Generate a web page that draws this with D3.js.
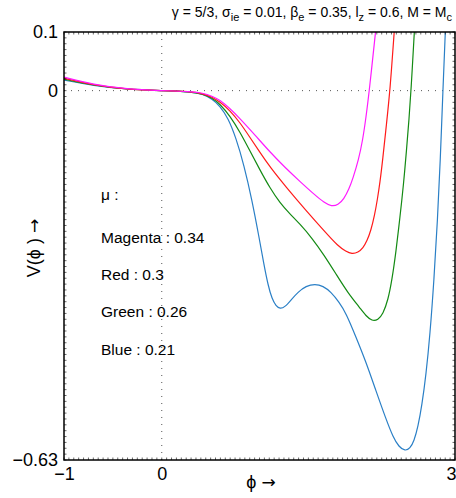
<!DOCTYPE html>
<html>
<head>
<meta charset="utf-8">
<script src="https://cdn.jsdelivr.net/npm/d3@7/dist/d3.min.js"></script>
<style>
  html, body { margin: 0; padding: 0; background: #fff; }
  svg { display: block; font-family: "Liberation Sans", Arial, Helvetica, sans-serif; }
</style>
</head>
<body>
<svg id="chart" width="456" height="498"></svg>
<script>
// Potential V(phi) for four values of mu
const muValues = [0.21, 0.26, 0.3, 0.34];
const seriesNames = ["Blue", "Green", "Red", "Magenta"];
const seriesColors = ["#2a7fc6", "#138a13", "#ff1a1a", "#ff1aff"];

const xTicks = [-1, 0, 3];
const yTicks = [0.1, 0, -0.63];
const xTickLabels = ["\u22121", "0", "3"];
const yTickLabels = ["0.1", "0", "\u22120.63"];

// [phi, V] samples for each mu
const blueV = [
  [-1, 0.018], [-0.703, 0.0085], [-0.355, 0.002], [0, 0], [0.289, -0.0015],
  [0.422, -0.0058], [0.514, -0.0143], [0.596, -0.0262], [0.678, -0.0467],
  [0.760, -0.0808], [0.841, -0.1268], [0.923, -0.1865], [0.995, -0.2497],
  [1.046, -0.2974], [1.087, -0.3315], [1.128, -0.3554], [1.169, -0.3673],
  [1.210, -0.3725], [1.261, -0.3690], [1.322, -0.3571], [1.394, -0.3435],
  [1.476, -0.3332], [1.568, -0.3298], [1.650, -0.3332], [1.731, -0.3435],
  [1.813, -0.3605], [1.885, -0.3793], [1.987, -0.4202], [2.090, -0.4629],
  [2.192, -0.5123], [2.294, -0.5601], [2.366, -0.5908], [2.427, -0.6078],
  [2.488, -0.6147], [2.540, -0.6104], [2.581, -0.5976], [2.621, -0.5737],
  [2.662, -0.5362], [2.703, -0.4850], [2.744, -0.4168], [2.785, -0.3230],
  [2.821, -0.2207], [2.850, -0.1183], [2.876, -0.0006], [2.901, 0.1]
];
const greenV = [
  [-1, 0.0195], [-0.703, 0.009], [-0.355, 0.002], [0, 0], [0.289, -0.0015],
  [0.422, -0.0058], [0.514, -0.0126], [0.596, -0.0228], [0.698, -0.0433],
  [0.800, -0.0706], [0.903, -0.1030], [1.005, -0.1354], [1.107, -0.1661],
  [1.210, -0.1917], [1.312, -0.2104], [1.414, -0.2275], [1.537, -0.2514],
  [1.660, -0.2803], [1.783, -0.3128], [1.905, -0.3452], [2.028, -0.3707],
  [2.090, -0.3844], [2.151, -0.3929], [2.212, -0.3912], [2.263, -0.3810],
  [2.315, -0.3571], [2.355, -0.3230], [2.396, -0.2752], [2.437, -0.2155],
  [2.473, -0.1610], [2.504, -0.1013], [2.529, -0.0501], [2.550, -0.0006],
  [2.584, 0.1]
];
const redV = [
  [-1, 0.021], [-0.703, 0.0095], [-0.355, 0.002], [0, 0], [0.289, -0.0015],
  [0.422, -0.005], [0.514, -0.0109], [0.596, -0.0194], [0.698, -0.0339],
  [0.800, -0.0544], [0.903, -0.0799], [1.005, -0.1055], [1.107, -0.1303],
  [1.271, -0.1644], [1.476, -0.2045], [1.680, -0.2428], [1.803, -0.2650],
  [1.885, -0.2744], [1.946, -0.2786], [2.008, -0.2761], [2.059, -0.2684],
  [2.100, -0.2565], [2.141, -0.2377], [2.176, -0.2138], [2.207, -0.1848],
  [2.233, -0.1558], [2.260, -0.1183], [2.299, -0.0569], [2.335, -0.0006],
  [2.378, 0.1]
];
const magentaV = [
  [-1, 0.023], [-0.703, 0.0105], [-0.355, 0.0024], [0, 0], [0.289, -0.0015],
  [0.422, -0.004], [0.514, -0.0092], [0.596, -0.0160], [0.698, -0.0305],
  [0.800, -0.0475], [0.954, -0.0757], [1.107, -0.1047], [1.261, -0.1311],
  [1.414, -0.1550], [1.578, -0.1797], [1.660, -0.1908], [1.737, -0.1976],
  [1.803, -0.1951], [1.864, -0.1848], [1.916, -0.1678], [1.957, -0.1490],
  [2.013, -0.1183], [2.056, -0.0842], [2.090, -0.0450], [2.123, -0.0006],
  [2.187, 0.1]
];
const seriesData = [blueV, greenV, redV, magentaV];

const svg = d3.select("#chart");
const margin = { left: 64, top: 32, right: 1, bottom: 38 };
const W = 456, H = 498;
const plotW = W - margin.left - margin.right;
const plotH = H - margin.top - margin.bottom;

const x = d3.scaleLinear().domain([-1, 3]).range([margin.left, margin.left + plotW]);
const y = d3.scaleLinear().domain([-0.63, 0.1]).range([margin.top + plotH, margin.top]);

svg.append("defs").append("clipPath").attr("id", "plotClip")
  .append("rect")
  .attr("x", margin.left).attr("y", margin.top)
  .attr("width", plotW).attr("height", plotH);

// dotted reference lines through the origin
svg.append("line")
  .attr("x1", x(0)).attr("x2", x(0))
  .attr("y1", margin.top).attr("y2", margin.top + plotH)
  .attr("stroke", "#555").attr("stroke-width", 1).attr("stroke-dasharray", "1,6");
svg.append("line")
  .attr("x1", margin.left).attr("x2", margin.left + plotW)
  .attr("y1", y(0)).attr("y2", y(0))
  .attr("stroke", "#555").attr("stroke-width", 1).attr("stroke-dasharray", "1,6");

// curves
const line = d3.line()
  .x(d => x(d[0])).y(d => y(d[1]))
  .curve(d3.curveBasis);

svg.append("g").attr("clip-path", "url(#plotClip)")
  .selectAll("path").data(seriesData).join("path")
  .attr("d", line)
  .attr("fill", "none")
  .attr("stroke", (d, i) => seriesColors[i])
  .attr("stroke-width", 1.2);

// minor ticks along the frame
const minorX = d3.range(-1, 3.0001, 0.05);
const minorY = d3.range(-0.63, 0.1001, 0.01);
const tickG = svg.append("g").attr("stroke", "#000").attr("stroke-width", 0.6);
minorX.forEach(v => {
  tickG.append("line").attr("x1", x(v)).attr("x2", x(v))
    .attr("y1", margin.top).attr("y2", margin.top + 2.5);
  tickG.append("line").attr("x1", x(v)).attr("x2", x(v))
    .attr("y1", margin.top + plotH).attr("y2", margin.top + plotH - 2.5);
});
minorY.forEach(v => {
  tickG.append("line").attr("y1", y(v)).attr("y2", y(v))
    .attr("x1", margin.left).attr("x2", margin.left + 2.5);
  tickG.append("line").attr("y1", y(v)).attr("y2", y(v))
    .attr("x1", margin.left + plotW).attr("x2", margin.left + plotW - 2.5);
});

// frame
svg.append("rect")
  .attr("x", margin.left).attr("y", margin.top)
  .attr("width", plotW).attr("height", plotH)
  .attr("fill", "none").attr("stroke", "#000").attr("stroke-width", 1.5);

// axes tick labels
const xAxis = d3.axisBottom(x).tickValues(xTicks).tickSize(0)
  .tickFormat((d, i) => xTickLabels[i]);
const gx = svg.append("g")
  .attr("transform", `translate(0,${margin.top + plotH})`)
  .call(xAxis);
gx.select(".domain").remove();
gx.selectAll("text").attr("font-size", 18).attr("fill", "#000")
  .attr("font-family", "'Liberation Sans', Arial, sans-serif")
  .attr("dy", "0.71em").attr("y", 7)
  .attr("dx", d => d === 3 ? -4 : 0);

const yAxis = d3.axisLeft(y).tickValues(yTicks).tickSize(0)
  .tickFormat((d, i) => yTickLabels[i]);
const gy = svg.append("g")
  .attr("transform", `translate(${margin.left},0)`)
  .call(yAxis);
gy.select(".domain").remove();
gy.selectAll("text").attr("font-size", 18).attr("fill", "#000")
  .attr("font-family", "'Liberation Sans', Arial, sans-serif")
  .attr("x", -6);

// axis titles
const xTitle = svg.append("text")
  .attr("x", 261).attr("y", 488)
  .attr("text-anchor", "middle").attr("font-size", 18);
xTitle.append("tspan").text("\u03d5 ");
xTitle.append("tspan").attr("font-family", "'DejaVu Sans', sans-serif").attr("font-size", 17).text("\u2192");

const yTitle = svg.append("text")
  .attr("transform", "translate(40,248) rotate(-90)")
  .attr("text-anchor", "middle").attr("font-size", 18);
yTitle.append("tspan").text("V(\u03d5 ) ");
yTitle.append("tspan").attr("font-family", "'DejaVu Sans', sans-serif").attr("font-size", 17).text("\u2192");

// parameter title with subscripts
const title = svg.append("text")
  .attr("x", 452).attr("y", 17)
  .attr("text-anchor", "end").attr("font-size", 14);
const titleParts = [
  ["\u03b3 = 5/3, \u03c3", false], ["ie", true], [" = 0.01, \u03b2", false], ["e", true],
  [" = 0.35, l", false], ["z", true], [" = 0.6, M = M", false], ["c", true]
];
let wasSub = false;
titleParts.forEach(([t, sub]) => {
  const ts = title.append("tspan").text(t);
  if (sub) { ts.attr("font-size", 11).attr("dy", 4); }
  else if (wasSub) { ts.attr("dy", -4); }
  wasSub = sub;
});

// legend notes
const legendLines = ["\u03bc :"].concat(
  seriesNames.slice().reverse().map((n, i) => `${n} : ${muValues.slice().reverse()[i]}`)
);
svg.append("g").selectAll("text").data(legendLines).join("text")
  .attr("x", 101)
  .attr("y", (d, i) => i === 0 ? 200 : 243 + (i - 1) * 37.2)
  .attr("font-size", 15.5)
  .text(d => d);
</script>
</body>
</html>
